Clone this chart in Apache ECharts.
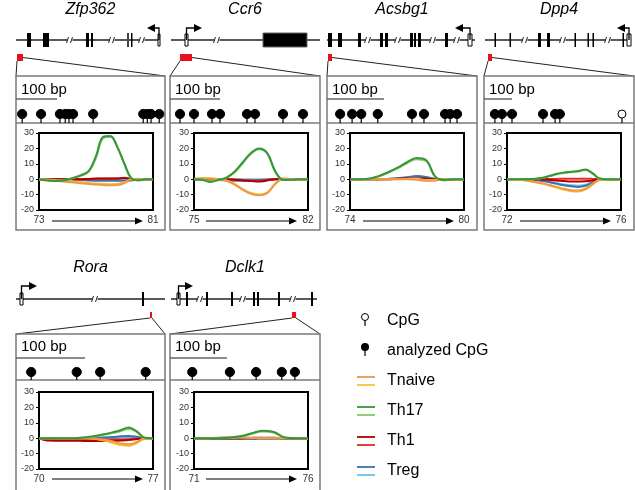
<!DOCTYPE html>
<html>
<head>
<meta charset="utf-8">
<script src="https://cdn.jsdelivr.net/npm/echarts@6/dist/echarts.min.js"></script>
<style>html,body{margin:0;padding:0;background:#fff}#main{width:635px;height:490px}</style>
</head>
<body>
<div id="main"></div>
<script>
var FONT = 'Liberation Sans, Arial, sans-serif';

// ---- melting curves: temperature steps and difference values per cell type (2 replicates each)
var zfp362Temp = [73,73.5,74,74.5,75,75.5,76,76.5,77,77.5,78,78.5,79,79.5,80,80.5,81];
var zfp362Tnaive = [[0,-0.3,-0.8,-1.3,-1.8,-2.2,-2.7,-3.1,-3.5,-3.8,-4,-3.8,-2.5,0,0.3,0,0],
                    [0,-0.2,-0.5,-0.8,-1.2,-1.6,-2,-2.4,-2.8,-3,-3.2,-3,-2,0,0,0,0]];
var zfp362Th17 = [[0,-0.8,-1.2,-1,-0.3,1.2,2.8,5.5,15,27.5,28,21,10,0.5,-0.8,0,0],
                  [0,-0.6,-1,-0.8,-0.2,1,2.5,5,14,26.5,27.5,20.5,9.5,0.3,-0.5,0,0]];
var zfp362Th1 = [[0,0,0,0,0,0,0,0.2,0.4,0.5,0.5,0.5,0.8,0.2,0,0,0],
                 [0,0,0,0,0,0,0,0,0.2,0.3,0.3,0.4,1,0,0,0,0]];
var zfp362Treg = [[0,-0.3,-0.3,-0.3,-0.3,-0.3,-0.5,-0.8,-1,-1,-1,-1,-1,-0.8,0,0,0],
                  [0,0,0,0,0,0,0,0,0,0,0,0,0,-0.5,-0.5,0,0]];

var ccr6Temp = [75,75.5,76,76.5,77,77.5,78,78.5,79,79.5,80,80.5,81,81.5,82];
var ccr6Tnaive = [[0.3,0.6,0.5,0,-1,-3.5,-7,-9.5,-10.5,-9,-3,0.5,0.2,0,0],
                  [0.3,0.5,0.4,0,-0.8,-3,-6.5,-9,-10,-8.5,-2.8,0.4,0,0,0]];
var ccr6Th17 = [[0,-0.3,-1.8,-0.5,1,5,11,17,20,17,5,-0.5,-0.3,0,0],
                [0,-0.2,-1.5,-0.4,1,4.5,10.5,16.5,19.5,16.5,4.5,-0.5,-0.3,0,0]];
var ccr6Th1 = [[0,0,0,0,0,-0.3,-0.8,-1.2,-1.5,-0.8,0,0,0,0,0],
               [0,0,0,0,0,-0.2,-0.5,-0.8,-1,-0.5,0,0,0,0,0]];
var ccr6Treg = [[0,0,0,-0.5,-0.8,-1,-1,-0.8,-0.5,-0.2,0,0,0,0,0],
                [0,0,0,0,0,0,0,0,0,0,0,0,0,0,0]];

var acsbg1Temp = [74,74.5,75,75.5,76,76.5,77,77.5,78,78.5,79,79.5,80];
var acsbg1Tnaive = [[0,0,0,0,0,0,0,-0.3,-1,-0.8,0,0,0],
                    [0,0,0,0,0,0,0.2,0.3,-0.5,-0.5,0,0,0]];
var acsbg1Th17 = [[0,0,0.3,2,4.5,7.5,11,13.8,12.5,1.5,-0.5,0,0],
                  [0,0,0.3,1.8,4.2,7,10.3,13,11.8,1.2,-0.5,0,0]];
var acsbg1Th1 = [[0,0,0,0,0,0.3,0.5,0.5,0.3,0,0,0,0],
                 [0,0,0,0,0,0.2,0.3,0.3,0.2,0,0,0,0]];
var acsbg1Treg = [[0,0,0,0,0.2,0.6,1.2,2,1.5,0,-0.5,0,0],
                  [0,0,0,0,0.2,0.5,1,1.5,1.2,0,-0.8,0,0]];

var dpp4Temp = [72,72.25,72.5,72.75,73,73.25,73.5,73.75,74,74.25,74.5,74.75,75,75.25,75.5,75.75,76];
var dpp4Tnaive = [[0,-0.2,-0.4,-1,-1.8,-2.7,-3.8,-5,-6.2,-7.2,-7.4,-6.2,-3,-0.4,0,0,0],
                  [0,-0.2,-0.5,-1.2,-2,-3,-4.2,-5.5,-6.8,-7.8,-8,-6.8,-3.5,-0.5,0,0,0]];
var dpp4Th17 = [[0,0,0,0,0.3,1,2.2,3.5,4.3,4.8,5.3,6.3,4,0.5,0,0,0],
                [0,0,0,0,0.2,0.8,2,3.2,4,4.5,5,6,3.6,0.4,0,0,0]];
var dpp4Th1 = [[0,0,0,0,0,-0.2,-0.5,-0.8,-1.2,-1.5,-1.5,-1.3,-0.8,0,0,0,0],
               [0,0,0,0,0,0,0.1,0.2,0.3,0.3,0.3,0.3,0.2,0,0,0,0]];
var dpp4Treg = [[0,0,0,-0.3,-0.6,-1.2,-2,-3,-4,-4.6,-5,-4.3,-2.2,0,0,0,0],
                [0,0,0,-0.2,-0.5,-1,-1.8,-2.7,-3.5,-4,-4.2,-3.6,-1.8,0,0,0,0]];

var roraTemp = [70,70.5,71,71.5,72,72.5,73,73.5,74,74.5,75,75.5,76,76.5,77];
var roraTnaive = [[0,0,0,0,0,0,0,-0.3,-1,-2,-3.5,-4,-2.5,0,0],
                  [0,0,0,0,0,0,0,-0.5,-1.5,-3,-4.5,-5,-3.2,-0.3,0]];
var roraTh17 = [[0,0,0,0,0,0.3,0.8,1.6,2.6,3.8,5.2,7,4.5,0.3,0],
                [0,0,0,0,0,0.2,0.6,1.3,2.2,3.3,4.6,6,4,0.2,0]];
var roraTh1 = [[0,-1.5,-1.6,-1.6,-1.7,-1.7,-1.8,-1.8,-1.8,-1.7,-1.5,-1.2,-0.6,0,0],
               [0,-0.5,-0.6,-0.6,-0.6,-0.7,-0.8,-0.8,-0.8,-0.8,-0.8,-0.6,-0.3,0,0]];
var roraTreg = [[0,0,0,0,0,0,0,0.2,0.5,0.8,1.2,1.5,1,0,0],
                [0,0,0,0,0,0,0,0,0,0,0.3,0.5,0.3,0,-0.5]];

var dclk1Temp = [71,71.5,72,72.5,73,73.5,74,74.5,75,75.5,76];
var dclk1Tnaive = [[0,0,0.3,0.6,0.6,0.3,0,0,0,0,0],
                   [0,0,0.2,0.4,0.4,0.2,0,0,0,0,0]];
var dclk1Th17 = [[0,0,0,0.3,1.2,3,4.8,4,0.5,0,0],
                 [0,0,0,0.2,1,2.7,4.4,3.6,0.3,0,0]];
var dclk1Th1 = [[0,0,0,0,0,0.2,0.3,0.3,0,0,0],
                [0,0,0,0,0,0,0.2,0.2,0,0,0]];
var dclk1Treg = [[-0.3,-0.3,-0.3,-0.3,-0.3,-0.3,-0.3,-0.3,-0.3,-0.3,-0.3],
                 [-0.5,-0.5,-0.5,-0.5,-0.5,-0.5,-0.5,-0.5,-0.5,-0.5,-0.5]];

// ---- CpG positions in the zoomed window (bp), [position, analyzed 1 / not analyzed 0]
var zfp362Window = 363;
var zfp362CpG = [[15,1],[61,1],[107,1],[120,1],[129,1],[139,1],[188,1],[310,1],[320,1],[329,1],[349,1]];
var ccr6Window = 300;
var ccr6CpG = [[20,1],[48,1],[84,1],[100,1],[154,1],[170,1],[226,1],[266,1]];
var acsbg1Window = 263;
var acsbg1CpG = [[23,1],[44,1],[60,1],[89,1],[149,1],[170,1],[207,1],[216,1],[228,1]];
var dpp4Window = 536;
var dpp4CpG = [[39,1],[64,1],[100,1],[211,1],[254,1],[271,1],[493,0]];
var roraWindow = 216;
var roraCpG = [[22,1],[88,1],[122,1],[188,1]];
var dclk1Window = 263;
var dclk1CpG = [[39,1],[105,1],[151,1],[196,1],[219,1]];

// ---- gene schematics (schematic units), exons [start, end, kind 0 exon / 1 first exon / 2 large exon / 3 grey exon]
var zfp362Backbone = [0,144], zfp362Exons = [[11,15,0],[27,33,0],[70,73,0],[75,77,0],[111,113,3],[115,116,0],[142,144,1]];
var zfp362Breaks = [54,96,126], zfp362Tss = [143,131], zfp362Region = [1,7];
var ccr6Backbone = [1,150], ccr6Exons = [[15,18,1],[93,137,2]];
var ccr6Breaks = [47], ccr6Tss = [16.5,32], ccr6Region = [10,22];
var acsbg1Backbone = [0,148], acsbg1Exons = [[1,5,0],[11,15,0],[31,34,0],[53,56,0],[58,61,0],[83,86,0],[87,89,0],[91,94,0],[118,121,0],[141,145,1]];
var acsbg1Breaks = [41,71,106,130], acsbg1Tss = [143,128], acsbg1Region = [1,5];
var dpp4Backbone = [1,146], dpp4Exons = [[10.5,12,0],[25.5,27,0],[54,57,0],[63,66,0],[90.5,92,0],[103.5,105,0],[108.5,110,0],[138.5,140,0],[143,147,1]];
var dpp4Breaks = [41,79,124], dpp4Tss = [145,133], dpp4Region = [4,8];
var roraBackbone = [0,149], roraExons = [[4,7,1],[126,128,0]];
var roraBreaks = [79], roraTss = [5.5,21], roraRegion = [134,136];
var dclk1Backbone = [1,147], dclk1Exons = [[7,10,1],[16,18,0],[36,38,0],[61,63,0],[83,85,0],[87,89,0],[108,110,0],[141,143,0]];
var dclk1Breaks = [30,73,123], dclk1Tss = [8.5,23], dclk1Region = [122,126];

var genes = [
  {name:'Zfp362', temp:zfp362Temp, Tnaive:zfp362Tnaive, Th17:zfp362Th17, Th1:zfp362Th1, Treg:zfp362Treg, win:zfp362Window, cpg:zfp362CpG, bb:zfp362Backbone, exons:zfp362Exons, breaks:zfp362Breaks, tss:zfp362Tss, region:zfp362Region},
  {name:'Ccr6', temp:ccr6Temp, Tnaive:ccr6Tnaive, Th17:ccr6Th17, Th1:ccr6Th1, Treg:ccr6Treg, win:ccr6Window, cpg:ccr6CpG, bb:ccr6Backbone, exons:ccr6Exons, breaks:ccr6Breaks, tss:ccr6Tss, region:ccr6Region},
  {name:'Acsbg1', temp:acsbg1Temp, Tnaive:acsbg1Tnaive, Th17:acsbg1Th17, Th1:acsbg1Th1, Treg:acsbg1Treg, win:acsbg1Window, cpg:acsbg1CpG, bb:acsbg1Backbone, exons:acsbg1Exons, breaks:acsbg1Breaks, tss:acsbg1Tss, region:acsbg1Region},
  {name:'Dpp4', temp:dpp4Temp, Tnaive:dpp4Tnaive, Th17:dpp4Th17, Th1:dpp4Th1, Treg:dpp4Treg, win:dpp4Window, cpg:dpp4CpG, bb:dpp4Backbone, exons:dpp4Exons, breaks:dpp4Breaks, tss:dpp4Tss, region:dpp4Region},
  {name:'Rora', temp:roraTemp, Tnaive:roraTnaive, Th17:roraTh17, Th1:roraTh1, Treg:roraTreg, win:roraWindow, cpg:roraCpG, bb:roraBackbone, exons:roraExons, breaks:roraBreaks, tss:roraTss, region:roraRegion},
  {name:'Dclk1', temp:dclk1Temp, Tnaive:dclk1Tnaive, Th17:dclk1Th17, Th1:dclk1Th1, Treg:dclk1Treg, win:dclk1Window, cpg:dclk1CpG, bb:dclk1Backbone, exons:dclk1Exons, breaks:dclk1Breaks, tss:dclk1Tss, region:dclk1Region}
];

var groupNames = ['Tnaive','Th17','Th1','Treg'];
var groupColors = {
  Tnaive: ['#EE9845','#F5C23C'],
  Th17: ['#37963A','#86C966'],
  Th1: ['#B00000','#E22B2B'],
  Treg: ['#3A72B0','#62C4E4']
};
var drawOrder = ['Treg','Th1','Tnaive','Th17'];

// ---- layout
var rows = [
  {titleY:10, geneY:40, boxTop:76, boxBottom:230, textY:90, sepY:123, scaleH:24, plotTop:133, arrowY:221, stemH:9, tssH:12, redTop:14, redBot:21},
  {titleY:268, geneY:299, boxTop:334, boxBottom:498, textY:347, sepY:380, scaleH:22, plotTop:392, arrowY:479, stemH:8, tssH:13, redTop:13, redBot:19}
];
var panels = [
  {row:0, left:16, width:149, off:23},
  {row:0, left:170, width:150, off:24},
  {row:0, left:327, width:150, off:23},
  {row:0, left:484, width:150, off:23},
  {row:1, left:16, width:149, off:23},
  {row:1, left:170, width:150, off:24}
];
var PLOT_W = 114, PLOT_H = 77;

var grids = [], xAxes = [], yAxes = [], series = [], graphics = [];

function hiddenAxis(min, max) {
  return {type:'value', min:min, max:max, show:false};
}

genes.forEach(function (g, gi) {
  var p = panels[gi], r = rows[p.row];
  var right = p.left + p.width;

  // gene schematic grid (y in pixel units)
  var gIdx = grids.length;
  grids.push({left:p.left, top:r.geneY - 25, width:p.width, height:50});
  xAxes.push(hiddenAxis(0, p.width)); xAxes[gIdx].gridIndex = gIdx;
  yAxes.push(hiddenAxis(-25, 25)); yAxes[gIdx].gridIndex = gIdx;

  series.push({type:'line', xAxisIndex:gIdx, yAxisIndex:gIdx, silent:true, symbol:'none', clip:false,
    data:[[g.bb[0],0],[g.bb[1],0]], lineStyle:{color:'#222', width:1.3}, z:2});
  series.push({type:'custom', xAxisIndex:gIdx, yAxisIndex:gIdx, silent:true, clip:false, z:4,
    data:g.breaks.map(function (b) { return [b, 0]; }),
    renderItem:function (params, api) {
      var c = api.coord([api.value(0), 0]);
      return {type:'group', children:[
        {type:'rect', shape:{x:c[0]-2.5, y:c[1]-1.5, width:5, height:3}, style:{fill:'#fff'}},
        {type:'line', shape:{x1:c[0]-3.5, y1:c[1]+3, x2:c[0]-1.5, y2:c[1]-3}, style:{stroke:'#222', lineWidth:1}},
        {type:'line', shape:{x1:c[0]+0.5, y1:c[1]+3, x2:c[0]+2.5, y2:c[1]-3}, style:{stroke:'#222', lineWidth:1}}
      ]};
    }});
  series.push({type:'custom', xAxisIndex:gIdx, yAxisIndex:gIdx, silent:true, clip:false, z:5,
    data:g.exons,
    renderItem:function (params, api) {
      var k = api.value(2);
      var h = k === 1 ? 12 : 14;
      var a = api.coord([api.value(0), h / 2]), b = api.coord([api.value(1), -h / 2]);
      var fill = k === 1 ? '#fff' : (k === 3 ? '#444' : '#000');
      return {type:'rect', shape:{x:a[0], y:a[1], width:Math.max(b[0]-a[0], 1.5), height:b[1]-a[1]},
        style:{fill:fill, stroke:k === 2 ? '#666' : '#000', lineWidth:k === 1 || k === 2 ? 1 : 0}};
    }});
  series.push({type:'custom', xAxisIndex:gIdx, yAxisIndex:gIdx, silent:true, clip:false, z:5,
    data:[[g.tss[0], g.tss[1], r.tssH]],
    renderItem:function (params, api) {
      var x0 = api.value(0), x1 = api.value(1), up = api.value(2);
      var a = api.coord([x0, 0]), b = api.coord([x0, up]), c = api.coord([x1, up]);
      var d = x1 > x0 ? 1 : -1;
      return {type:'group', children:[
        {type:'polyline', shape:{points:[a, b, [c[0]-d*6, c[1]]]}, style:{stroke:'#000', lineWidth:1.3, fill:null}},
        {type:'polygon', shape:{points:[[c[0], c[1]], [c[0]-d*8, c[1]-4], [c[0]-d*8, c[1]+4]]}, style:{fill:'#000'}}
      ]};
    }});
  series.push({type:'custom', xAxisIndex:gIdx, yAxisIndex:gIdx, silent:true, clip:false, z:5,
    data:[[g.region[0], g.region[1]]],
    renderItem:function (params, api) {
      var a = api.coord([api.value(0), -r.redTop]), b = api.coord([api.value(1), -r.redBot]);
      return {type:'rect', shape:{x:a[0], y:a[1], width:b[0]-a[0], height:b[1]-a[1]}, style:{fill:'#E8101A'}};
    }});

  // zoom lines from red region to the box
  var rx0 = p.left + g.region[0], rx1 = p.left + g.region[1];
  var ry1 = r.geneY + r.redBot, ryM = r.geneY + (r.redTop + r.redBot) / 2;
  graphics.push({type:'line', shape:{x1:rx0, y1:ry1, x2:p.left, y2:r.boxTop}, style:{stroke:'#222', lineWidth:1}, silent:true});
  graphics.push({type:'line', shape:{x1:rx1, y1:p.row === 0 ? ryM : ry1, x2:right, y2:r.boxTop}, style:{stroke:'#222', lineWidth:1}, silent:true});

  // box, separator, title, scale label
  graphics.push({type:'rect', shape:{x:p.left, y:r.boxTop, width:p.width, height:r.boxBottom - r.boxTop},
    style:{fill:null, stroke:'#7a7a7a', lineWidth:1.5}, silent:true});
  graphics.push({type:'line', shape:{x1:p.left, y1:r.sepY, x2:right, y2:r.sepY}, style:{stroke:'#7a7a7a', lineWidth:1.5}, silent:true});
  graphics.push({type:'text', x:p.left + p.width / 2, y:r.titleY,
    style:{text:g.name, font:'italic 16px ' + FONT, fill:'#000', textAlign:'center', textVerticalAlign:'middle'}, silent:true});
  graphics.push({type:'text', x:p.left + 5, y:r.textY,
    style:{text:'100 bp', font:'15px ' + FONT, fill:'#000', textAlign:'left', textVerticalAlign:'middle'}, silent:true});

  // CpG grid (x in bp, y in pixel units)
  var cIdx = grids.length;
  grids.push({left:p.left, top:r.sepY - 40, width:p.width, height:40});
  var cx = hiddenAxis(0, g.win); cx.gridIndex = cIdx; xAxes.push(cx);
  var cy = hiddenAxis(0, 40); cy.gridIndex = cIdx; yAxes.push(cy);
  series.push({type:'line', xAxisIndex:cIdx, yAxisIndex:cIdx, silent:true, symbol:'none',
    data:[[0, r.scaleH],[100, r.scaleH]], lineStyle:{color:'#666', width:1.5}});
  series.push({type:'custom', xAxisIndex:cIdx, yAxisIndex:cIdx, silent:true, clip:false,
    data:g.cpg,
    renderItem:function (params, api) {
      var filled = api.value(1) === 1;
      var base = api.coord([api.value(0), 0]), top = api.coord([api.value(0), r.stemH]);
      return {type:'group', children:[
        {type:'line', shape:{x1:base[0], y1:base[1], x2:top[0], y2:top[1]}, style:{stroke:'#000', lineWidth:1.2}},
        {type:'circle', shape:{cx:top[0], cy:top[1], r:filled ? 4.6 : 4}, style:{fill:filled ? '#000' : '#fff', stroke:'#000', lineWidth:1}}
      ]};
    }});

  // melting curve grid
  var lIdx = grids.length;
  var tMin = g.temp[0], tMax = g.temp[g.temp.length - 1];
  grids.push({left:p.left + p.off, top:r.plotTop, width:PLOT_W, height:PLOT_H, show:true,
    borderColor:'#000', borderWidth:2, backgroundColor:'#fff'});
  xAxes.push({type:'value', gridIndex:lIdx, min:tMin, max:tMax, interval:1,
    axisLine:{show:false}, axisTick:{show:false}, splitLine:{show:false},
    axisLabel:{show:true, margin:5, fontSize:10, fontFamily:FONT, color:'#333', showMinLabel:true, showMaxLabel:true, hideOverlap:false,
      formatter:function (v) { return (v === tMin || v === tMax) ? String(v) : ''; }}});
  yAxes.push({type:'value', gridIndex:lIdx, min:-20, max:30, interval:10,
    axisLine:{show:false}, splitLine:{show:false},
    axisTick:{show:true, length:3, lineStyle:{color:'#000', width:1}},
    axisLabel:{margin:5, fontSize:9, fontFamily:FONT, color:'#333'}});
  drawOrder.forEach(function (grp) {
    // second replicate first so the darker one sits on top
    [1, 0].forEach(function (k) {
      var vals = g[grp][k];
      series.push({type:'line', name:grp, xAxisIndex:lIdx, yAxisIndex:lIdx, silent:true, symbol:'none',
        smooth:0.4, z:3,
        data:g.temp.map(function (t, i) { return [t, vals[i]]; }),
        lineStyle:{color:groupColors[grp][k], width:2}});
    });
  });

  // temperature arrow
  var ax0 = p.left + 36, ax1 = p.left + 127;
  graphics.push({type:'line', shape:{x1:ax0, y1:r.arrowY, x2:ax1 - 6, y2:r.arrowY}, style:{stroke:'#000', lineWidth:1}, silent:true});
  graphics.push({type:'polygon', shape:{points:[[ax1, r.arrowY], [ax1 - 8, r.arrowY - 3.5], [ax1 - 8, r.arrowY + 3.5]]}, style:{fill:'#000'}, silent:true});
});

// ---- legend
var lx = 365, tx = 387;
graphics.push({type:'line', shape:{x1:lx, y1:318, x2:lx, y2:326}, style:{stroke:'#000', lineWidth:1.2}, silent:true});
graphics.push({type:'circle', shape:{cx:lx, cy:317, r:3.5}, style:{fill:'#fff', stroke:'#000', lineWidth:1}, silent:true});
graphics.push({type:'text', x:tx, y:321, style:{text:'CpG', font:'16px ' + FONT, fill:'#000', textVerticalAlign:'middle'}, silent:true});
graphics.push({type:'line', shape:{x1:lx, y1:347, x2:lx, y2:356}, style:{stroke:'#000', lineWidth:1.2}, silent:true});
graphics.push({type:'circle', shape:{cx:lx, cy:347, r:4}, style:{fill:'#000'}, silent:true});
graphics.push({type:'text', x:tx, y:351, style:{text:'analyzed CpG', font:'16px ' + FONT, fill:'#000', textVerticalAlign:'middle'}, silent:true});
groupNames.forEach(function (grp, i) {
  var y = 381 + i * 30;
  graphics.push({type:'line', shape:{x1:357, y1:y - 4, x2:375, y2:y - 4}, style:{stroke:groupColors[grp][0], lineWidth:1.8}, silent:true});
  graphics.push({type:'line', shape:{x1:357, y1:y + 4, x2:375, y2:y + 4}, style:{stroke:groupColors[grp][1], lineWidth:1.8}, silent:true});
  graphics.push({type:'text', x:tx, y:y, style:{text:grp, font:'16px ' + FONT, fill:'#000', textVerticalAlign:'middle'}, silent:true});
});

var myChart = echarts.init(document.getElementById('main'));
myChart.setOption({
  animation:false,
  backgroundColor:'#fff',
  textStyle:{fontFamily:FONT},
  grid:grids,
  xAxis:xAxes,
  yAxis:yAxes,
  series:series,
  graphic:graphics
});
</script>
</body>
</html>
